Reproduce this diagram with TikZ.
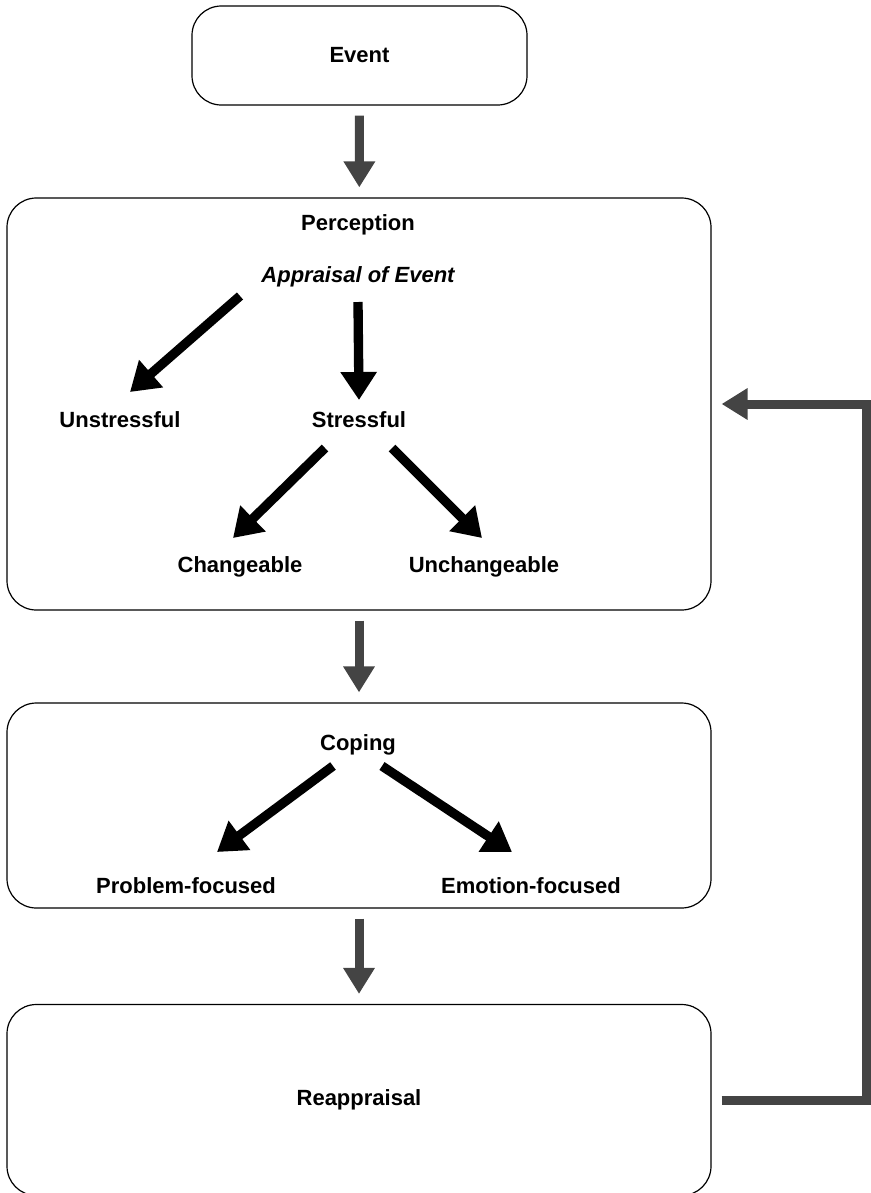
\documentclass[tikz,border=0pt]{standalone}
\usepackage{fontspec}
\setmainfont{Liberation Sans}
\usetikzlibrary{arrows.meta,calc}
\definecolor{arrowgray}{HTML}{444444}

\begin{document}
\begin{tikzpicture}[x=0.75pt,y=0.75pt,yscale=-1,xscale=1,
  lbl/.style={inner sep=0.75pt, font=\fontsize{16.5}{20}\selectfont\bfseries},
  roundbox/.style={draw, line width=0.9pt, rounded corners=22pt, inner sep=0pt, font=\fontsize{16.5}{20}\selectfont\bfseries},
  grayarrow/.style={draw=arrowgray, line width=6.75pt, -{Triangle[width=22.5pt,length=19.5pt]}, shorten <=7.5pt, shorten >=7.5pt},
  blackarrow/.style={draw=black, line width=7pt, -{Triangle[width=26pt,length=21pt]}}]
\useasboundingbox (0,0) rectangle (871,1193);

%Rounded Rect
\node [roundbox, minimum width=251.25pt, minimum height=74.25pt] (event) at (359.5,55.5) {Event};
%Rounded Rect
\node [roundbox, minimum width=528pt, minimum height=309pt] (perc) at (359,404) {};
%Rounded Rect
\node [roundbox, minimum width=528pt, minimum height=153.75pt] (coping) at (359,805.5) {};
%Rounded Rect
\node [roundbox, minimum width=528pt, minimum height=143.25pt] (reap) at (359,1100) {Reappraisal};

% Text Node
\node [lbl] (percttl) at (358,225) {Perception};
% Text Node
\node [lbl] (app) at (358,277) {\itshape Appraisal of Event};
% Text Node
\node [lbl] (uns) at (120,420) {Unstressful};
% Text Node
\node [lbl] (str) at (359,420) {Stressful};
% Text Node
\node [lbl] (chg) at (240,567) {Changeable};
% Text Node
\node [lbl] (unchg) at (484,567) {Unchangeable};
% Text Node
\node [lbl] (copttl) at (358,745) {Coping};
% Text Node
\node [lbl] (prob) at (186,886) {Problem-focused};
% Text Node
\node [lbl] (emo) at (531,886) {Emotion-focused};

%Straight Lines
\draw [grayarrow] (event) -- (perc);
\draw [grayarrow] (perc) -- (coping);
\draw [grayarrow] (coping) -- (reap);
%Straight Lines
\draw [blackarrow] ($(app.center)+(-118,19)$) -- ($(uns.center)+(10,-28)$);
\draw [blackarrow] ($(app.center)+(0,25)$) -- ($(str.center)+(0,-20)$);
\draw [blackarrow] ($(str.center)+(-34,28)$) -- ($(chg.center)+(-7,-29)$);
\draw [blackarrow] ($(str.center)+(33,28)$) -- ($(unchg.center)+(-2,-29)$);
\draw [blackarrow] ($(copttl.center)+(-25,21)$) -- ($(prob.center)+(31,-34)$);
\draw [blackarrow] ($(copttl.center)+(24,21)$) -- ($(emo.center)+(-19,-34)$);
%Straight Lines
\draw [draw=arrowgray, line width=6.75pt, -{Triangle[width=22.5pt,length=19.5pt]}] ([xshift=7.5pt]reap.east) -| ([xshift=116pt]perc.east) -- ([xshift=7.5pt]perc.east);

\end{tikzpicture}
\end{document}
